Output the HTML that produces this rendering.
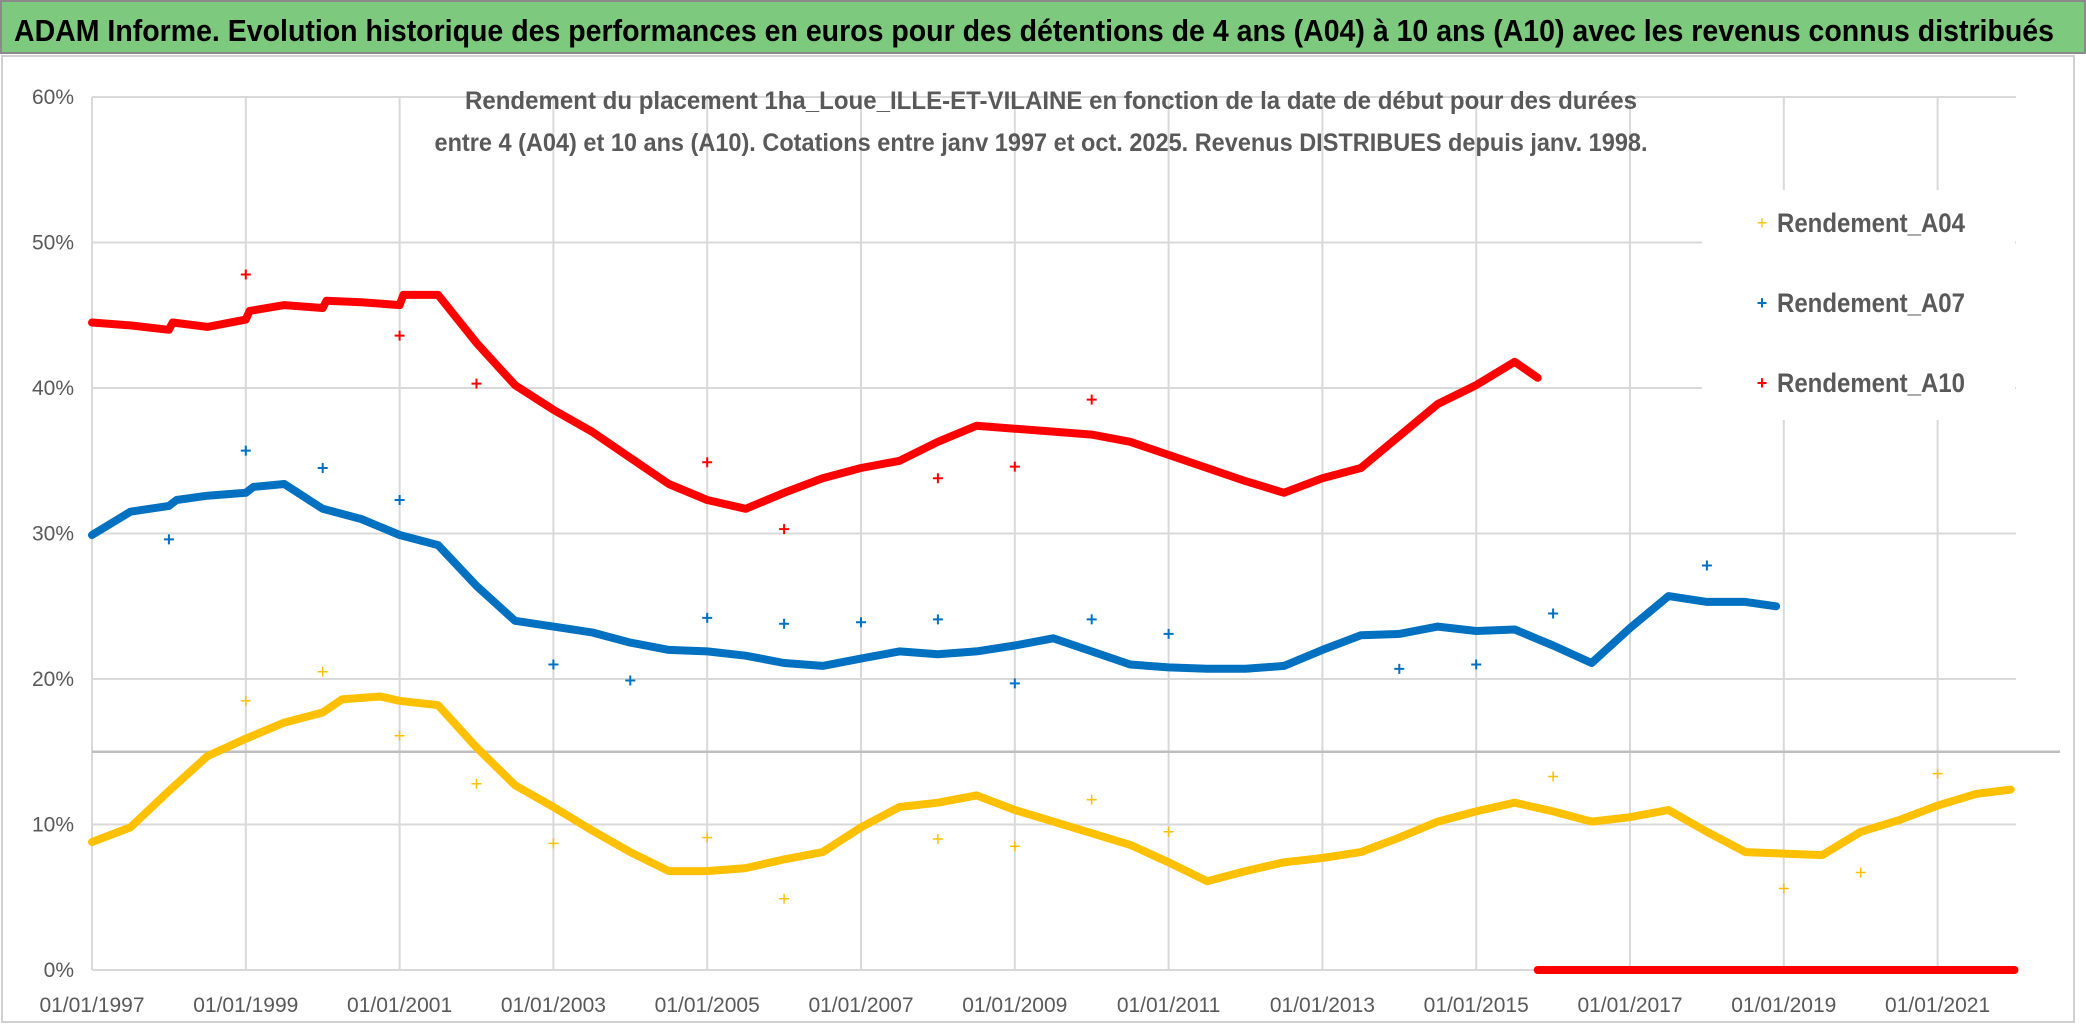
<!DOCTYPE html>
<html><head><meta charset="utf-8"><style>
html,body{margin:0;padding:0;background:#fff;}
svg{display:block;font-family:"Liberation Sans Narrow","Liberation Sans",sans-serif;}
</style></head><body>
<svg id="chart" width="2086" height="1032" viewBox="0 0 2086 1032" xmlns="http://www.w3.org/2000/svg">
<rect x="0" y="0" width="2086" height="1032" fill="#fff"/>
<rect x="1" y="1" width="2084" height="52" fill="#7dc97e" stroke="#8a8a8a" stroke-width="2"/>
<text x="14" y="41" font-size="31" font-weight="bold" fill="#000" textLength="2040" lengthAdjust="spacingAndGlyphs">ADAM Informe. Evolution historique des performances en euros pour des détentions de 4 ans (A04) à 10 ans (A10) avec les revenus connus distribués</text>
<rect x="2" y="56" width="2072" height="966" fill="none" stroke="#d0d0d0" stroke-width="2"/>
<g id="grid"></g>
<g id="axes"></g>
<g id="series"></g>
<rect x="1702" y="190" width="313" height="230" fill="#fff"/>
<text x="1051" y="109" font-size="25" font-weight="bold" fill="#595959" text-anchor="middle" textLength="1172" lengthAdjust="spacingAndGlyphs">Rendement du placement 1ha_Loue_ILLE-ET-VILAINE en fonction de la date de début pour des durées</text>
<text x="1041" y="151" font-size="25" font-weight="bold" fill="#595959" text-anchor="middle" textLength="1213" lengthAdjust="spacingAndGlyphs">entre 4 (A04) et 10 ans (A10). Cotations entre janv 1997 et oct. 2025. Revenus DISTRIBUES depuis janv. 1998.</text>
<g>
 <g><text x="1762" y="229" font-size="18" fill="#FFC000" text-anchor="middle">+</text><text x="1777" y="232" font-size="27" font-weight="bold" fill="#595959" textLength="188" lengthAdjust="spacingAndGlyphs">Rendement_A04</text></g>
 <g><text x="1762" y="309" font-size="18" fill="#0070C0" text-anchor="middle" font-weight="bold">+</text><text x="1777" y="312" font-size="27" font-weight="bold" fill="#595959" textLength="188" lengthAdjust="spacingAndGlyphs">Rendement_A07</text></g>
 <g><text x="1762" y="389" font-size="18" fill="#FF0000" text-anchor="middle" font-weight="bold">+</text><text x="1777" y="392" font-size="27" font-weight="bold" fill="#595959" textLength="188" lengthAdjust="spacingAndGlyphs">Rendement_A10</text></g>
</g>
</svg>
<script>
const yTicks = [0,10,20,30,40,50,60];
const xTickYears = [1997,1999,2001,2003,2005,2007,2009,2011,2013,2015,2017,2019,2021];
const a04Years = [1997,1997.5,1998,1998.5,1999,1999.5,2000,2000.25,2000.75,2001,2001.5,2002,2002.5,2003,2003.5,2004,2004.5,2005,2005.5,2006,2006.5,2007,2007.5,2008,2008.5,2009,2009.5,2010,2010.5,2011,2011.5,2012,2012.5,2013,2013.5,2014,2014.5,2015,2015.5,2016,2016.5,2017,2017.5,2018,2018.5,2019,2019.5,2020,2020.5,2021,2021.5,2021.95];
const a04Values = [8.8,9.8,12.3,14.7,15.9,17.0,17.7,18.6,18.8,18.5,18.2,15.3,12.7,11.2,9.6,8.1,6.8,6.8,7.0,7.6,8.1,9.8,11.2,11.5,12.0,11.0,10.2,9.4,8.6,7.4,6.1,6.8,7.4,7.7,8.1,9.1,10.2,10.9,11.5,10.9,10.2,10.5,11.0,9.5,8.1,8.0,7.9,9.5,10.3,11.3,12.1,12.4];
const a04OutYears = [1999,2000,2001,2002,2003,2005,2006,2008,2009,2010,2011,2016,2019,2020,2021];
const a04OutValues = [18.5,20.5,16.1,12.8,8.7,9.1,4.9,9.0,8.5,11.7,9.5,13.3,5.6,6.7,13.5];
const a07Years = [1997,1997.5,1998,1998.1,1998.5,1999,1999.1,1999.5,2000,2000.5,2001,2001.5,2002,2002.5,2003,2003.5,2004,2004.5,2005,2005.5,2006,2006.5,2007,2007.5,2008,2008.5,2009,2009.5,2010,2010.5,2011,2011.5,2012,2012.5,2013,2013.5,2014,2014.5,2015,2015.5,2016,2016.5,2017,2017.5,2018,2018.5,2018.9];
const a07Values = [29.9,31.5,31.9,32.3,32.6,32.8,33.2,33.4,31.7,31.0,29.9,29.2,26.4,24.0,23.6,23.2,22.5,22.0,21.9,21.6,21.1,20.9,21.4,21.9,21.7,21.9,22.3,22.8,21.9,21.0,20.8,20.7,20.7,20.9,22.0,23.0,23.1,23.6,23.3,23.4,22.3,21.1,23.5,25.7,25.3,25.3,25.0];
const a07OutYears = [1998,1999,2000,2001,2003,2004,2005,2006,2007,2008,2009,2010,2011,2014,2015,2016,2018];
const a07OutValues = [29.6,35.7,34.5,32.3,21.0,19.9,24.2,23.8,23.9,24.1,19.7,24.1,23.1,20.7,21.0,24.5,27.8];
const a10Years = [1997,1997.5,1998,1998.05,1998.5,1999,1999.05,1999.5,2000,2000.05,2000.5,2001,2001.05,2001.5,2002,2002.5,2003,2003.5,2004,2004.5,2005,2005.5,2006,2006.5,2007,2007.5,2008,2008.5,2009,2009.5,2010,2010.5,2011,2011.5,2012,2012.5,2013,2013.5,2014,2014.5,2015,2015.5,2015.8];
const a10Values = [44.5,44.3,44.0,44.5,44.2,44.7,45.3,45.7,45.5,46.0,45.9,45.7,46.4,46.4,43.1,40.2,38.5,37.0,35.2,33.4,32.3,31.7,32.8,33.8,34.5,35.0,36.3,37.4,37.2,37.0,36.8,36.3,35.4,34.5,33.6,32.8,33.8,34.5,36.7,38.9,40.2,41.8,40.7];
const a10OutYears = [1999,2001,2002,2005,2006,2008,2009,2010];
const a10OutValues = [47.8,43.6,40.3,34.9,30.3,33.8,34.6,39.2];
const a10ZeroYears = [2015.8,2022.0];
const a10ZeroValues = [0,0];

const NS = "http://www.w3.org/2000/svg";
const X0 = 92, YEARPX = 76.9, Y0 = 970, PCTPX = 14.55, XRIGHT = 2016;
function xs(y){ return X0 + (y - 1997) * YEARPX; }
function ys(v){ return Y0 - v * PCTPX; }
function mk(tag, attrs, parent){ const e = document.createElementNS(NS, tag); for (const k in attrs) e.setAttribute(k, attrs[k]); parent.appendChild(e); return e; }

const grid = document.getElementById('grid');
const axes = document.getElementById('axes');
const series = document.getElementById('series');

xTickYears.forEach(yr => {
  const l = mk('line', {x1: xs(yr), x2: xs(yr), y1: ys(60), y2: Y0, stroke: '#d9d9d9', 'stroke-width': 2}, grid);
  
  
  const t = mk('text', {x: xs(yr), y: 1012, 'font-size': 21, fill: '#595959', 'text-anchor': 'middle'}, axes);
  t.textContent = '01/01/' + yr;
  
  
});
yTicks.forEach(v => {
  const l = mk('line', {x1: X0, x2: XRIGHT, y1: ys(v), y2: ys(v), stroke: '#d9d9d9', 'stroke-width': 2}, grid);
  
  
  const t = mk('text', {x: 74, y: ys(v) + 7, 'font-size': 21, fill: '#595959', 'text-anchor': 'end'}, axes);
  t.textContent = v + '%';
  
  
});
const ref = mk('line', {x1: X0, x2: 2060, y1: ys(15), y2: ys(15), stroke: '#bfbfbf', 'stroke-width': 2.5}, grid);



function drawLine(years, vals, color, name){
  const pts = years.map((y, i) => xs(y).toFixed(1) + ',' + ys(vals[i]).toFixed(1)).join(' ');
  const p = mk('polyline', {points: pts, fill: 'none', stroke: color, 'stroke-width': 8, 'stroke-linejoin': 'round', 'stroke-linecap': 'round'}, series);
  
  
}
function drawPlus(years, vals, color, name, w){
  years.forEach((y, i) => {
    const cx = xs(y), cy = ys(vals[i]);
    const d = 'M' + (cx - 5) + ' ' + cy + 'H' + (cx + 5) + 'M' + cx + ' ' + (cy - 5) + 'V' + (cy + 5);
    const p = mk('path', {d: d, stroke: color, 'stroke-width': w, fill: 'none'}, series);
    
    
  });
}
drawLine(a04Years, a04Values, '#FFC000', 'series-a04-line');
drawPlus(a04OutYears, a04OutValues, '#FFC000', 'a04-distribution-point', 1.5);
drawLine(a07Years, a07Values, '#0070C0', 'series-a07-line');
drawPlus(a07OutYears, a07OutValues, '#0070C0', 'a07-distribution-point', 2);
drawLine(a10Years, a10Values, '#FF0000', 'series-a10-line');
drawPlus(a10OutYears, a10OutValues, '#FF0000', 'a10-distribution-point', 2);
drawLine(a10ZeroYears, a10ZeroValues, '#FF0000', 'series-a10-zero-line');
</script>
</body></html>
